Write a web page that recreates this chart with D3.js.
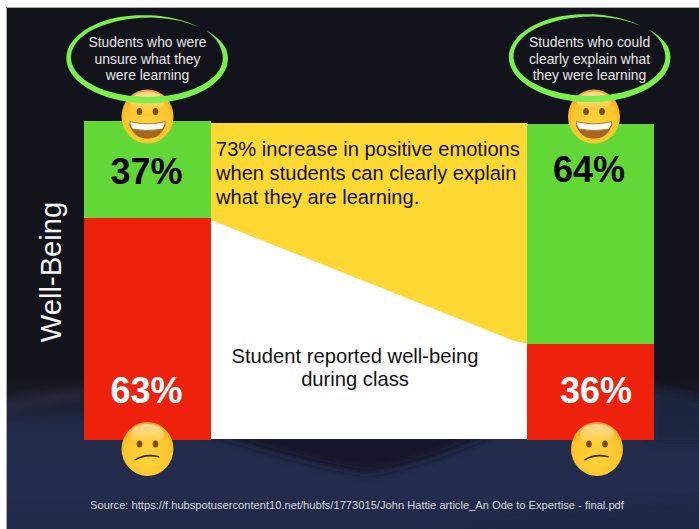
<!DOCTYPE html>
<html>
<head>
<meta charset="utf-8">
<script src="https://cdn.jsdelivr.net/npm/d3@7/dist/d3.min.js"></script>
<style>
html,body{margin:0;padding:0;background:#fff;}
svg{display:block;}
text{font-family:"Liberation Sans",Arial,sans-serif;}
</style>
</head>
<body>
<div id="chart"></div>
<script>
// Share of students reporting each feeling, per group
const groups = ["unsure", "clear"];
const positiveShare = [37, 64];
const negativeShare = [63, 36];
const groupCaptions = [
  ["Students who were", "unsure what they", "were learning"],
  ["Students who could", "clearly explain what", "they were learning"]
];
const calloutLines = [
  "73% increase in positive emotions",
  "when students can clearly explain",
  "what they are learning."
];
const bridgeLines = ["Student reported well-being", "during class"];
const axisTitle = "Well-Being";
const sourceNote = "Source: https://f.hubspotusercontent10.net/hubfs/1773015/John Hattie article_An Ode to Expertise - final.pdf";

const W = 699, H = 529;
const GREEN = "#61d836", RED = "#ee220c", YELLOW = "#ffd932", RING = "#7bf04a";

const svg = d3.select("#chart").append("svg").attr("width", W).attr("height", H);
const defs = svg.append("defs");

// Slide backdrop -------------------------------------------------------------
const bgGrad = defs.append("linearGradient").attr("id", "slideBg")
  .attr("x1", 0).attr("x2", 0).attr("y1", 0).attr("y2", 1);
[[0, "#13141b"], [0.71, "#13141b"], [0.76, "#1b1f30"], [0.80, "#212a48"], [0.92, "#242d4e"], [1, "#202947"]]
  .forEach(([o, c]) => bgGrad.append("stop").attr("offset", o).attr("stop-color", c));
defs.append("filter").attr("id", "soft").attr("x", "-20%").attr("y", "-20%").attr("width", "140%").attr("height", "140%")
  .append("feGaussianBlur").attr("stdDeviation", 5);

const slide = svg.append("g");
slide.append("rect").attr("x", 6).attr("y", 7).attr("width", W - 6).attr("height", H - 7)
  .attr("fill", "url(#slideBg)");
slide.append("path").attr("fill", "none").attr("stroke", "#a9a9ab").attr("stroke-width", 1)
  .attr("d", `M6.5,${H}V7.5H${W}`);

const clipBg = defs.append("clipPath").attr("id", "slideClip");
clipBg.append("rect").attr("x", 7).attr("y", 8).attr("width", W - 7).attr("height", H - 8);
const waves = slide.append("g").attr("clip-path", "url(#slideClip)");
// Dark swoosh under the middle of the slide and the softer folds either side
waves.append("path").attr("filter", "url(#soft)").attr("fill", "#13162a")
  .attr("d", "M205,432 C250,444 300,462 365,473 C410,468 455,450 495,432 Z");
waves.append("path").attr("filter", "url(#soft)").attr("fill", "#2d3044").attr("opacity", 0.5)
  .attr("d", "M0,402 C30,394 60,390 90,388 L90,400 C60,403 30,408 0,416 Z");
waves.append("path").attr("filter", "url(#soft)").attr("fill", "#1e2541").attr("opacity", 0.9)
  .attr("d", "M650,388 C670,390 690,396 705,400 L705,440 L650,440 Z");
waves.append("path").attr("filter", "url(#soft)").attr("fill", "#1e2644").attr("opacity", 0.5)
  .attr("d", "M470,535 C520,515 600,508 705,500 L705,535 Z");

// Scales ---------------------------------------------------------------------
const columnX = d3.scalePoint().domain(groups).range([84, 527]);
const columnW = 127;
// The percentage axis is stretched piecewise per column, so each split sits on its own stated share
const yColumn = [
  d3.scaleLinear().domain([0, positiveShare[0], 100]).range([121, 218, 440]),
  d3.scaleLinear().domain([0, positiveShare[1], 100]).range([124, 344, 440])
];

// Band between the two columns ----------------------------------------------
const bridgeLeft = columnX("unsure") + columnW;
const bridgeRight = columnX("clear");
svg.append("rect").attr("x", bridgeLeft).attr("y", yColumn[0](positiveShare[0]))
  .attr("width", bridgeRight - bridgeLeft)
  .attr("height", 439 - yColumn[0](positiveShare[0])).attr("fill", "#fff");
const bridgeTop = 123;
svg.append("path").attr("fill", YELLOW)
  .attr("d", d3.line()([
    [bridgeLeft, bridgeTop],
    [bridgeRight, bridgeTop],
    [bridgeRight, yColumn[1](positiveShare[1]) - 0.5],
    [bridgeRight - 14, yColumn[1](positiveShare[1]) - 3.5],
    [bridgeLeft, yColumn[0](positiveShare[0]) + 2]
  ]));

// Stacked columns ------------------------------------------------------------
groups.forEach((g, i) => {
  const y = yColumn[i];
  const col = svg.append("g");
  col.append("rect").attr("x", columnX(g)).attr("width", columnW)
    .attr("y", y(0)).attr("height", y(positiveShare[i]) - y(0)).attr("fill", GREEN);
  col.append("rect").attr("x", columnX(g)).attr("width", columnW)
    .attr("y", y(100 - negativeShare[i])).attr("height", y(100) - y(100 - negativeShare[i])).attr("fill", RED);
});

// Emoji faces ----------------------------------------------------------------
const faceGrad = defs.append("radialGradient").attr("id", "faceFill")
  .attr("cx", 0.5).attr("cy", 0.62).attr("r", 0.62);
[[0, "#ffd23a"], [0.72, "#fcc62c"], [0.93, "#f4ae24"], [1, "#e8962a"]]
  .forEach(([o, c]) => faceGrad.append("stop").attr("offset", o).attr("stop-color", c));
const shineGrad = defs.append("linearGradient").attr("id", "faceShine")
  .attr("x1", 0).attr("x2", 0).attr("y1", 0).attr("y2", 1);
shineGrad.append("stop").attr("offset", 0).attr("stop-color", "#fff").attr("stop-opacity", 0.55);
shineGrad.append("stop").attr("offset", 1).attr("stop-color", "#fff").attr("stop-opacity", 0);

function face(cx, cy, happy) {
  const g = svg.append("g").attr("transform", `translate(${cx},${cy})`);
  g.append("ellipse").attr("rx", 26).attr("ry", 27).attr("fill", "url(#faceFill)");
  g.append("ellipse").attr("cy", -15).attr("rx", 17).attr("ry", 10).attr("fill", "url(#faceShine)");
  [-8, 8].forEach(dx => g.append("ellipse").attr("cx", dx).attr("cy", -5)
    .attr("rx", 2.8).attr("ry", 3.6).attr("fill", "#7e4c1c"));
  if (happy) {
    g.append("path").attr("fill", "#a5651f")
      .attr("d", "M-17.5,5 Q0,9 17.5,5 Q19,8 17,11 C13,20 6,22 0,22 C-6,22 -13,20 -17,11 Q-19,8 -17.5,5 Z");
    g.append("path").attr("fill", "#fdfdf7").attr("stroke", "#8a5a20").attr("stroke-width", 0.6)
      .attr("d", "M-17.5,5.2 Q0,9.5 17.5,5.2 Q18,9 15,12.5 Q0,15.5 -15,12.5 Q-18,9 -17.5,5.2 Z");
  } else {
    g.append("path").attr("fill", "#3d2510")
      .attr("d", "M-13,10.5 Q-3,3.5 11,7 Q13,8 11.5,8.6 Q-2,5.5 -12,11.5 Q-14,11.5 -13,10.5 Z");
  }
}
face(147.5, 116.5, true);
face(594, 116.5, true);
face(147.5, 449, false);
face(597, 449, false);

// Brush-stroke rings round the group captions --------------------------------
function ring(cx, cy) {
  const steps = d3.range(0, 1.0001, 0.01);
  const pt = (u, off) => {
    const a = -0.72 + u * (Math.PI * 2 - 0.12);
    const drift = -4.5 * u;
    const rx = 78 + off, ry = 42.5 + off + drift * 0.35;
    return [cx + rx * Math.cos(a) + drift * 0.3, cy + ry * Math.sin(a) + drift * 0.25];
  };
  const thick = u => {
    const rise = Math.min(1, u / 0.08);
    const fade = u > 0.8 ? Math.max(0, (1 - u) / 0.2) : 1;
    const mid = 4 + 2.2 * Math.sin(Math.PI * Math.min(1, u / 0.7));
    return mid * rise * Math.pow(fade, 0.9);
  };
  const outer = steps.map(u => pt(u, thick(u) / 2));
  const inner = steps.map(u => pt(u, -thick(u) / 2)).reverse();
  svg.append("path").attr("fill", RING)
    .attr("d", d3.line().curve(d3.curveLinear)(outer.concat(inner)) + "Z");
}
ring(147.5, 58.5);
ring(590, 57.5);

// Text -----------------------------------------------------------------------
function stack(lines, x, firstY, step, size, fill, anchor) {
  lines.forEach((t, i) => svg.append("text").attr("x", x).attr("y", firstY + i * step)
    .attr("font-size", size).attr("fill", fill).attr("text-anchor", anchor).text(t));
}
stack(groupCaptions[0], 147.5, 47, 16.5, 13.9, "#e6e6e8", "middle");
stack(groupCaptions[1], 589.5, 47, 16.5, 13.9, "#e6e6e8", "middle");
stack(calloutLines, 216, 156, 24, 20.1, "#111", "start");
stack(bridgeLines, 355, 362.5, 23.5, 20.2, "#111", "middle");

const pctLabel = (t, x, y, fill) => svg.append("text").attr("x", x).attr("y", y)
  .attr("text-anchor", "middle").attr("font-size", 36).attr("font-weight", 700)
  .attr("fill", fill).text(t);
pctLabel(positiveShare[0] + "%", 146.5, 184, "#000");
pctLabel(positiveShare[1] + "%", 589, 182, "#000");
pctLabel(negativeShare[0] + "%", 146.5, 403, "#fff");
pctLabel(negativeShare[1] + "%", 596, 403, "#fff");

svg.append("text").attr("transform", "translate(61,272) rotate(-90)")
  .attr("text-anchor", "middle").attr("font-size", 29.2).attr("fill", "#f4f4f4").text(axisTitle);
svg.append("text").attr("x", 357).attr("y", 509).attr("text-anchor", "middle")
  .attr("font-size", 11.15).attr("fill", "#d6d8de").text(sourceNote);
</script>
</body>
</html>
